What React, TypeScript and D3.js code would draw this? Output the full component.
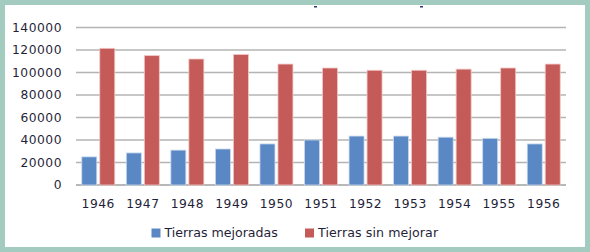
import React from "react";
import * as d3 from "d3";

const years = ["1946", "1947", "1948", "1949", "1950", "1951", "1952", "1953", "1954", "1955", "1956"];
const mejoradas = [25000, 28500, 31000, 32000, 36500, 40000, 43500, 43500, 42500, 41500, 36500];
const sinMejorar = [121500, 115000, 112000, 116000, 107500, 104000, 102000, 102000, 103000, 104000, 107500];
const yTicks = [0, 20000, 40000, 60000, 80000, 100000, 120000, 140000];
const seriesNames = ["Tierras mejoradas", "Tierras sin mejorar"];
const colors = ["#5a88c4", "#c55b58"];
const edgeColors = ["#c9d9ee", "#f0c8c6"];

const W = 590;
const H = 252;
const plotLeft = 76;
const plotRight = 566;
const plotTop = 27.5;
const plotBottom = 185;

export default function App() {
  const x = d3.scaleBand<string>().domain(years).range([plotLeft, plotRight]).padding(0);
  const y = d3.scaleLinear().domain([0, 140000]).range([plotBottom, plotTop]);
  const barW = 15;
  const gap = 3;
  const series = [mejoradas, sinMejorar];
  const font = "'DejaVu Sans', Verdana, sans-serif";

  return (
    <svg width={W} height={H} style={{ position: "absolute", left: 0, top: 0, display: "block" }}>
      <rect x={0} y={0} width={W} height={H} fill="#ffffff" />
      <rect x={2.5} y={2.5} width={W - 5} height={H - 5} fill="none" stroke="#a3cbbf" strokeWidth={5} />
      {/* cut-off title remnants */}
      <rect x={314} y={6} width={3} height={1.5} fill="#2a3a6a" />
      <rect x={420} y={6} width={3} height={1.5} fill="#2a3a6a" />
      {yTicks.map((t) => (
        <g key={t}>
          <line x1={plotLeft} x2={plotRight} y1={y(t)} y2={y(t)} stroke={t === 0 ? "#a0a0a0" : "#b4b4b4"} strokeWidth={1.6} />
          <text
            x={62}
            y={y(t)}
            dy="0.36em"
            textAnchor="end"
            fontFamily={font}
            fontSize={12.3}
            letterSpacing={0.5}
            fill="#1f1f3a"
          >
            {t}
          </text>
        </g>
      ))}
      {years.map((yr, i) => {
        const cx = (x(yr) ?? 0) + x.bandwidth() / 2;
        return (
          <g key={yr}>
            {series.map((s, k) => {
              const bx = k === 0 ? cx - gap / 2 - barW : cx + gap / 2;
              return (
                <rect
                  key={k}
                  x={bx}
                  y={y(s[i])}
                  width={barW}
                  height={plotBottom - y(s[i])}
                  fill={colors[k]}
                  stroke={edgeColors[k]}
                  strokeWidth={0.8}
                />
              );
            })}
            <text
              x={cx}
              y={208.3}
              textAnchor="middle"
              fontFamily={font}
              fontSize={12.3}
              letterSpacing={0.5}
              fill="#1f1f3a"
            >
              {yr}
            </text>
          </g>
        );
      })}
      {seriesNames.map((name, k) => {
        const lx = k === 0 ? 151.5 : 305;
        return (
          <g key={name}>
            <rect x={lx} y={228.5} width={9} height={9} fill={colors[k]} />
            <text x={lx + 13} y={237.2} fontFamily={font} fontSize={12.6} fill="#1f1f3a" letterSpacing={k === 1 ? 0.1 : 0}>
              {name}
            </text>
          </g>
        );
      })}
    </svg>
  );
}
